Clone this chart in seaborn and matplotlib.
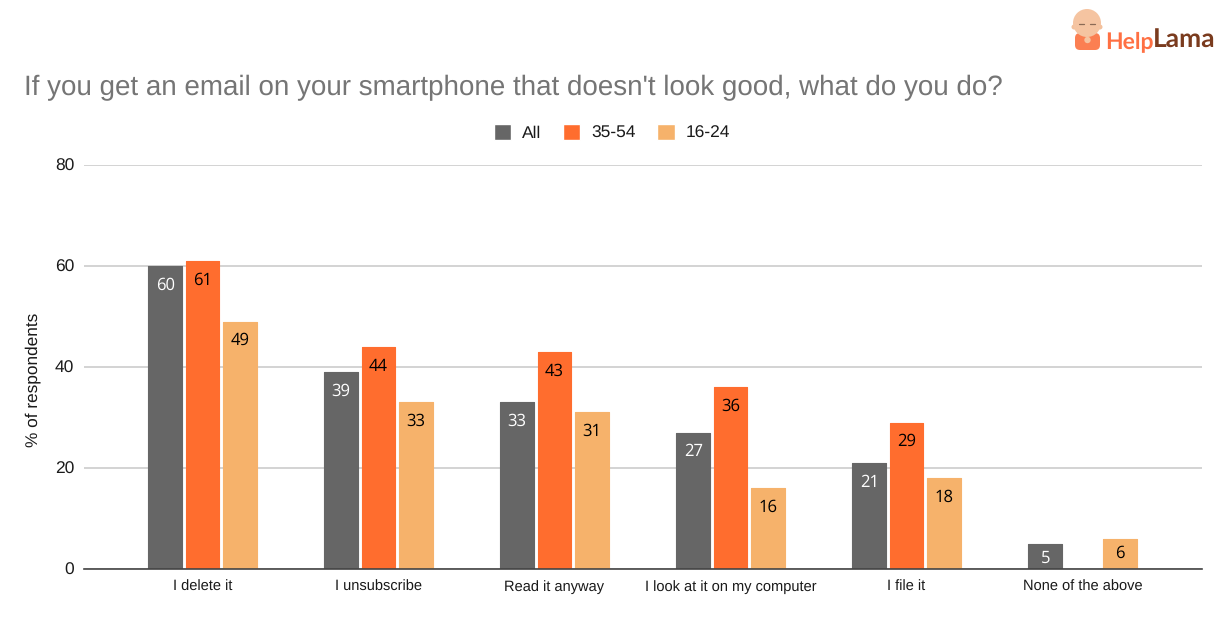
import matplotlib
matplotlib.use("Agg")
import matplotlib.pyplot as plt
from matplotlib.patches import Circle, FancyBboxPatch
import numpy as np
import pandas as pd
import seaborn as sns

categories = ["I delete it", "I unsubscribe", "Read it anyway", "I look at it on my computer", "I file it", "None of the above"]
all_ages = [60, 39, 33, 27, 21, 5]
age_35_54 = [61, 44, 43, 36, 29, np.nan]
age_16_24 = [49, 33, 31, 16, 18, 6]
series_names = ["All", "35-54", "16-24"]
palette = ["#666666", "#ff6d2e", "#f6b26b"]
label_colors = ["white", "black", "black"]
y_ticks = [0, 20, 40, 60, 80]

W, H = 1226, 618

sns.set_theme(style="white")
plt.rcParams["font.family"] = ["Liberation Sans", "DejaVu Sans"]
plt.rcParams["text.hinting"] = "no_hinting"

df = pd.DataFrame({
    "category": categories * 3,
    "series": [s for s in series_names for _ in categories],
    "value": all_ages + age_35_54 + age_16_24,
})

fig = plt.figure(figsize=(W / 100, H / 100), dpi=100, facecolor="white")
ax = fig.add_axes([84 / W, 1 - 569 / H, (1202 - 84) / W, (569 - 165) / H])

sns.barplot(
    data=df, x="category", y="value", hue="series",
    hue_order=series_names, palette=palette, saturation=1,
    width=0.635, gap=0.09, ax=ax, zorder=3,
)

# bars get a thin same-colour edge so the corners come out rounded
for cont, col, lab_col in zip(ax.containers, palette, label_colors):
    for bar in cont:
        bar.set_edgecolor(col)
        bar.set_linewidth(0.8)
        bar.set_joinstyle("round")
    anns = ax.bar_label(cont, fmt="%g", padding=-20, color=lab_col, fontsize=12,
                        fontfamily="Open Sans", zorder=5)
    # short bars: the label sits closer to the top
    for ann, bar in zip(anns, cont):
        if bar.get_height() < 10:
            ann.xyann = (0, -17)

ax.set_xlim(-0.673, 5.679)
ax.set_ylim(0, 80)
ax.set_yticks(y_ticks)
ax.yaxis.grid(True, color="#cccccc", linewidth=1.2)
ax.set_axisbelow(True)
ax.set_xlabel("")
ax.set_ylabel("% of respondents", fontsize=12.4, color="#1a1a1a")
ax.yaxis.set_label_coords((41 - 84) / (1202 - 84), (569 - 380) / (569 - 165))
ax.tick_params(axis="y", length=0, labelsize=12.5, labelcolor="#1a1a1a", pad=7)
ax.tick_params(axis="x", length=0, labelsize=10.5, labelcolor="#1a1a1a", pad=8)
for side in ["top", "left", "right"]:
    ax.spines[side].set_visible(False)
ax.spines["bottom"].set_color("#444444")
ax.spines["bottom"].set_linewidth(1.2)
ax.spines["bottom"].set_zorder(6)

handles, labels = ax.get_legend_handles_labels()
ax.legend(
    handles, labels, loc="center", bbox_to_anchor=(612 / W, 1 - 133 / H),
    bbox_transform=fig.transFigure, ncol=3, frameon=False, fontsize=12.5,
    handlelength=1.0, handleheight=1.05, handletextpad=0.63, columnspacing=1.24,
    labelcolor="#1a1a1a",
)

fig.text(24 / W, 1 - 88 / H, "If you get an email on your smartphone that doesn't look good, what do you do?",
         fontsize=20, color="#757575", va="center", ha="left")

# logo, drawn in pixel coordinates on a full-figure overlay
logo = fig.add_axes([0, 0, 1, 1], facecolor="none")
logo.set_xlim(0, W)
logo.set_ylim(H, 0)
logo.axis("off")
logo.add_patch(FancyBboxPatch((1078, 36), 19, 11, boxstyle="round,pad=3,rounding_size=5",
                              fc="#fb7f52", ec="none"))
logo.add_patch(Circle((1074, 27), 2.5, fc="#f3c09c", ec="none"))
logo.add_patch(Circle((1100, 27), 2.5, fc="#f3c09c", ec="none"))
logo.add_patch(Circle((1087, 23), 14, fc="#f5c4a1", ec="none"))
logo.add_patch(Circle((1087.5, 40), 3.2, fc="#f5c4a1", ec="none"))
logo.plot([1079, 1084], [24, 24], color="#8a6a55", lw=0.9)
logo.plot([1090, 1095], [24, 24], color="#8a6a55", lw=0.9)
logo.text(1105, 48, "Help", fontsize=16.5, fontfamily="Lato", fontweight="bold",
          color="#ff7043", va="baseline", ha="left")
logo.text(1153, 48, "Lama", fontsize=19, fontfamily="Lato", fontweight="bold",
          color="#7a3b1e", va="baseline", ha="left")

fig.savefig("out.png", dpi=100, facecolor="white")
